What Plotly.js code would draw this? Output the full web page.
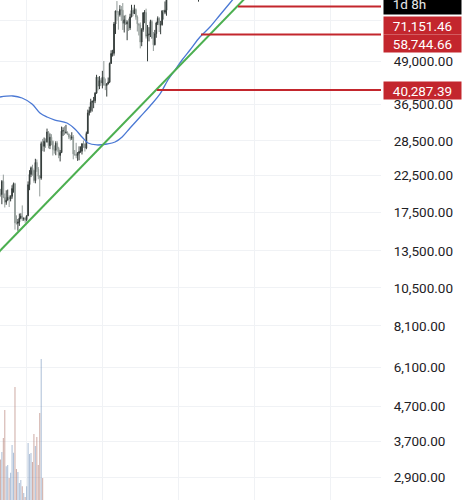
<!DOCTYPE html>
<html>
<head>
<meta charset="utf-8">
<script src="https://cdn.plot.ly/plotly-3.0.1.min.js"></script>
<style>
  html, body { margin: 0; padding: 0; background: #ffffff; }
  #chart { width: 472px; height: 500px; }
</style>
</head>
<body>
<div id="chart"></div>
<script>
// ---------------- DATA (weekly candles, first week starting 2022-08-29) ----------------
const firstWeek = '2022-08-29';
const opens = [20050,19800,21650,19420,18800,19050,19420,19200,19560,20630,21300,16330,16280,16430,16880,17100,16780,16840,
  16680,17130,21180,22710,23740,23330,21770,24630,23550,22430,22150,27990,27480,28450,28330,30300,27590,29230,28430,26920,26750,28070,27100,25840,26340,30470,30580,30160,30230,29860,29280,29050,29300,26100,26000,25830,26210,26520,26580,27970,27930,27150,29990,34500,35040,37060,37350,37470,39460,43990,41380,42990,
  42280,43950,41730,41580,42030,42580,48300,51660,51730,63140,68960,68390,67210,69650,69360,63430,64940,63120,63900,61480,66270,69260,67750,69650,66200,63200,62680,55850,60800,68150,68250,58120,58700,58930,64200,57300,54820,59130,63580,65600,62820,62850,69000,68350,69330,80370,89840,97900,97200,101100,104400,95200,93700,
  94500,94500,101300,102600,97700,96500,96100,96300,94300,80700,82600,86100,82400,83700,83800,85200];
const highs = [20580,21850,22670,19950,20380,20480,19700,19700,21090,21480,21450,17190,16770,17400,17430,18390,16950,16970,
  17180,21650,23380,23960,24250,23460,25250,25130,23880,22600,28390,28900,29180,29000,31000,30490,30000,29850,28600,27660,28450,28450,27400,26800,31430,31280,31500,31800,30440,29990,29700,30250,29680,26800,28150,26430,27480,27480,28050,28600,28000,30380,35280,35980,37980,37500,38450,39730,44700,44000,44300,43650,
  45920,49100,43580,42250,43880,48600,52820,52980,64000,69200,73800,68900,71770,71350,72800,66880,67200,64700,65500,67700,71950,70600,71950,70200,66950,63370,63800,61400,68400,69400,70080,62700,61800,65000,64960,59800,60650,64130,66500,66100,64500,69400,69500,73600,80600,93450,99500,98700,104000,106500,108350,99900,102700,
  102500,106500,109600,106400,102500,98800,99500,96500,95000,85300,87500,88800,88500,86100,86400,95800];
const lows = [19520,18540,19320,18130,18470,19040,18190,18900,19250,20050,15600,16150,15480,16000,16740,16530,16560,16330,
  16500,17130,20400,22290,22500,21450,21370,23100,21970,19550,21900,26600,26500,27200,28170,27100,26970,27680,25810,26150,25870,26500,25350,24800,26250,29500,29700,29950,29660,28860,28580,28700,25160,25780,25350,24900,25000,26300,26000,27200,26530,26950,29900,33900,34550,34800,35620,36850,39290,40200,40550,41520,
  40750,41500,40280,38550,41860,42260,48150,50600,50900,59000,64550,60760,66400,64500,60660,59600,62800,56550,60200,60600,66100,66600,67600,65000,60000,58400,53500,54300,59900,63500,57200,49000,56100,57800,57200,52550,54600,57500,62700,59800,58900,62450,65070,67500,66800,80200,89400,90800,90500,94150,92200,92500,91300,
  89250,89250,99500,96150,91200,94100,93400,78250,80000,76600,81200,81600,77100,73500,83000,83900];
const closes = [19800,21650,19420,18800,19050,19420,19200,19560,20630,21300,16330,16280,16430,16880,17100,16780,16840,16680,
  17130,21180,22710,23740,23330,21770,24630,23550,22430,22150,27990,27480,28450,28330,30300,27590,29230,28430,26920,26750,28070,27100,25840,26340,30470,30580,30160,30230,29860,29280,29050,29300,26100,26000,25830,26210,26520,26580,27970,27930,27150,29990,34500,35040,37060,37350,37470,39460,43990,41380,42990,42280,
  43950,41730,41580,42030,42580,48300,51660,51730,63140,68960,68390,67210,69650,69360,63430,64940,63120,63900,61480,66270,69260,67750,69650,66200,63200,62680,55850,60800,68150,68250,58120,58700,58930,64200,57300,54820,59130,63580,65600,62820,62850,69000,68350,69330,80370,89840,97900,97200,101100,104400,95200,93700,94500,
  94500,101300,102600,97700,96500,96100,96300,94300,80700,82600,86100,82400,83700,83800,85200,94000];
// weekly volume (thousand BTC), early weeks only
const volumes = [1500,1612,1821,2239,1400,1418,1224,1300,1716,1600,2582,1358,1313,1150,1194,1100,1000,940,
  1100,1746,1582,1597,1463,1881,1700,1836,1418,2194,3000,1224,820,700,650,640,600,560];

// moving average line
const maDates = ['2022-08-27','2022-10-28','2022-12-11','2023-01-28','2023-03-07','2023-04-10','2023-05-18','2023-07-15',
  '2023-08-22','2023-09-25','2023-10-24','2023-12-06','2024-01-23','2024-03-02','2024-04-05','2024-05-13','2024-06-30',
  '2024-08-17','2024-10-04','2024-11-11','2024-12-15','2025-01-18','2025-02-25','2025-04-14','2025-06-01','2025-07-19',
  '2025-09-05','2025-10-23'];
const maValues = [38440,38700,38180,36650,34480,33550,32870,32210,30920,29290,28120,27740,27920,28310,29290,31130,33550,
  36160,39230,43150,46170,49430,52910,57800,61860,67140,72850,79040];

// trendline
const trendDates = ['2022-08-03','2026-08-08'];
const trendValues = [13050,110600];

// horizontal levels
const levelValues = [71151.46, 58744.66, 40287.39];
const levelLabels = ['71,151.46', '58,744.66', '40,287.39'];
const levelStarts = ['2025-10-14', '2025-04-19', '2024-09-19'];
const countdownLabel = '1d 8h';

// axis ticks
const yTickVals = [2900,3700,4700,6100,8100,10500,13500,17500,22500,28500,36500,49000,64500];
const yTickText = ['2,900.00','3,700.00','4,700.00','6,100.00','8,100.00','10,500.00','13,500.00','17,500.00',
  '22,500.00','28,500.00','36,500.00','49,000.00',''];
const yearLines = ['2023-01-01','2024-01-01','2025-01-01','2026-01-01','2027-01-01'];
const xRange = ['2022-08-27', '2027-09-01'];

// ---------------- BUILD ----------------
const DAY = 86400000;
const t0 = Date.parse(firstWeek + 'T00:00:00Z');
const dates = opens.map((_, i) => new Date(t0 + i * 7 * DAY).toISOString().slice(0, 10));
const volDates = dates.slice(0, volumes.length);
const volColors = volumes.map((_, i) => closes[i] >= opens[i] ? 'rgba(120,150,190,0.6)' : 'rgba(176,120,110,0.6)');

const UP = '#343c3a', DOWN = '#939c99';
const RED = '#c3262d';
const FONT = 'Roboto, "Open Sans", sans-serif';

const traces = [
  {
    type: 'bar', x: volDates, y: volumes, yaxis: 'y2',
    width: 5 * DAY, marker: { color: volColors, line: { width: 0 } },
    hoverinfo: 'skip'
  },
  {
    type: 'candlestick', x: dates, open: opens, high: highs, low: lows, close: closes,
    increasing: { line: { color: UP, width: 1 }, fillcolor: UP },
    decreasing: { line: { color: DOWN, width: 1 }, fillcolor: DOWN },
    whiskerwidth: 0, hoverinfo: 'skip'
  },
  {
    type: 'scatter', mode: 'lines', x: maDates, y: maValues,
    line: { color: '#4a78d4', width: 1.3, shape: 'spline', smoothing: 1 }, hoverinfo: 'skip'
  },
  {
    type: 'scatter', mode: 'lines', x: trendDates, y: trendValues,
    line: { color: '#4caf50', width: 2 }, hoverinfo: 'skip'
  }
];
levelValues.forEach((v, i) => {
  traces.push({
    type: 'scatter', mode: 'lines', x: [levelStarts[i], xRange[1]], y: [v, v],
    line: { color: RED, width: 2 }, hoverinfo: 'skip'
  });
});

const labelCenters = [25.5, 43.5, 90.5];
const annotations = levelLabels.map((t, i) => ({
  text: t, xref: 'paper', yref: 'paper', x: 1, xanchor: 'left', xshift: 2,
  y: 1 - labelCenters[i] / 500, yanchor: 'middle', showarrow: false,
  bgcolor: RED, width: 73, height: 13, borderpad: 2, align: 'center',
  font: { family: FONT, size: 13.5, color: '#ffffff' }
}));
annotations.push({
  text: '\u00a0\u00a0' + countdownLabel, xref: 'paper', yref: 'paper', x: 1, xanchor: 'left', xshift: 2,
  y: 1 - 4 / 500, yanchor: 'middle', showarrow: false,
  bgcolor: '#000000', width: 73, height: 16, borderpad: 2, align: 'left',
  font: { family: FONT, size: 13.5, color: '#e8e8e8' }
});

const layout = {
  width: 472, height: 500,
  margin: { l: 0, r: 91, t: 0, b: 0, pad: 0 },
  paper_bgcolor: '#ffffff', plot_bgcolor: '#ffffff',
  showlegend: false, hovermode: false,
  xaxis: {
    type: 'date', range: xRange, rangeslider: { visible: false },
    tickmode: 'array', tickvals: yearLines, showticklabels: false, ticks: '',
    showgrid: true, gridcolor: '#f0f2f5', gridwidth: 1, zeroline: false, showline: false
  },
  yaxis: {
    type: 'log', range: [3.3946, 4.8712], side: 'right',
    tickmode: 'array', tickvals: yTickVals, ticktext: yTickText,
    ticks: 'outside', ticklen: 9, tickcolor: 'rgba(255,255,255,0)',
    tickfont: { family: FONT, size: 13.5, color: '#1e2125' },
    showgrid: true, gridcolor: '#f0f2f5', gridwidth: 1, zeroline: false, showline: false
  },
  yaxis2: {
    overlaying: 'y', range: [895, 8358], visible: false, showgrid: false, zeroline: false
  },
  annotations: annotations
};

Plotly.newPlot('chart', traces, layout, { staticPlot: true, displayModeBar: false });
</script>
</body>
</html>
